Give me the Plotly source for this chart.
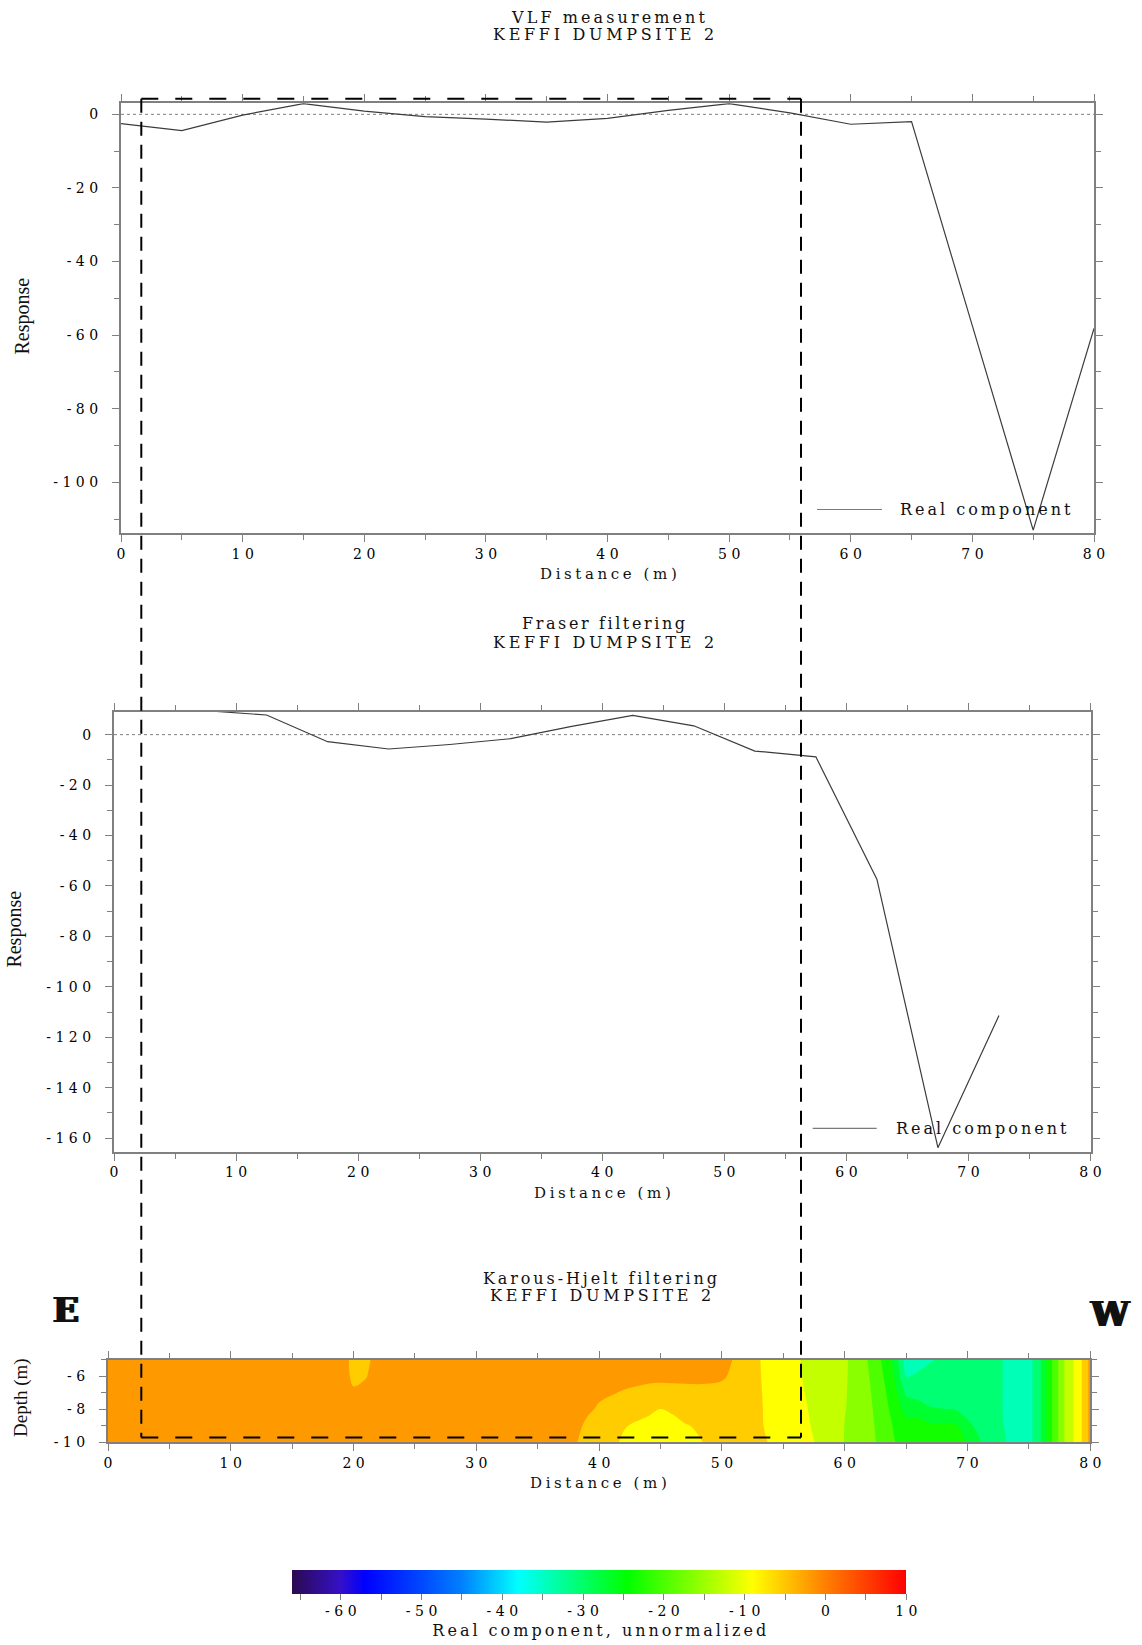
import plotly.graph_objects as go

# ---------------------------------------------------------------- data
# VLF real component along the profile
vlf_distance = [0, 5, 10, 15, 20, 25, 30, 35, 40, 45, 50, 55, 60, 65, 70, 75, 80]
vlf_real = [-2.5, -4.4, -0.2, 2.9, 0.9, -0.6, -1.3, -2.1, -1.1, 1.1, 2.9, 0.4,
            -2.7, -2.0, -57.5, -113.0, -58.2]

# Fraser filtered response, plotted at station mid-points
fraser_distance = [7.5, 12.5, 17.5, 22.5, 27.5, 32.5, 37.5, 42.5, 47.5, 52.5,
                   57.5, 62.5, 67.5, 72.5]
fraser_real = [9.5, 7.8, -2.8, -5.7, -3.9, -1.6, 3.3, 7.6, 3.5, -6.5,
               -8.8, -57.3, -163.8, -111.4]

# Karous-Hjelt pseudo-section (one list per depth level)
kh_distance = [0, 19, 20, 21, 22, 38, 39, 40, 42, 44, 45, 46, 47, 48, 49, 50,
               51, 52, 54, 56, 58, 60, 61, 62, 63, 64, 65, 66, 67, 69, 70.5,
               72, 73, 74, 75, 76, 77, 78, 79, 80]
kh_depth = [-5, -6, -7, -8, -9, -10]
kh_real_5 = [-2, -2, -4.6, -4.6, -2, -2, -2, -2, -2, -2, -2, -2, -2, -2, -2.2, -2.5,
             -3.8, -5.5, -8.5, -10.4, -12.4, -14.0, -15.5, -18.5, -21.8, -26.0, -34.0, -33.5, -32.6, -31.5, -31.5,
             -31.8, -32.5, -34.0, -34.0, -28.6, -20.8, -13.6, -9.2, -2.5]
kh_real_6 = [-2, -2, -4.3, -3.8, -2, -2, -2, -2, -2.6, -2.9, -2.9, -2.9, -2.9, -2.9, -3.0, -3.2,
             -4.2, -5.6, -8.3, -10.3, -12.2, -14.1, -15.4, -18.0, -21.0, -25.0, -32.6, -32.0, -31.5, -31.2, -31.5,
             -31.8, -32.5, -34.0, -34.0, -28.6, -20.8, -13.6, -9.2, -2.5]
kh_real_7 = [-2, -2, -3.2, -2.6, -2, -2, -2, -3.0, -3.8, -4.4, -4.6, -4.5, -4.4, -4.3, -4.3, -4.5,
             -5.0, -5.8, -8.0, -10.1, -12.0, -14.2, -15.3, -17.6, -20.3, -23.8, -29.5, -30.5, -30.8, -31.0, -31.5,
             -31.8, -32.5, -34.0, -34.0, -28.6, -20.8, -13.6, -9.2, -2.5]
kh_real_8 = [-2, -2, -2, -2, -2, -2, -3.0, -4.0, -5.5, -6.6, -7.25, -6.7, -5.8, -5.0, -4.6, -4.8,
             -5.2, -6.0, -7.8, -9.9, -11.7, -14.3, -15.2, -17.3, -19.8, -22.8, -26.5, -27.0, -28.5, -29.0, -30.5,
             -31.8, -32.5, -34.0, -34.0, -28.6, -20.8, -13.6, -9.2, -2.5]
kh_real_9 = [-2, -2, -2, -2, -2, -2.5, -4.2, -5.0, -7.0, -8.0, -8.6, -8.2, -7.4, -6.9, -6.0, -5.8,
             -5.6, -6.3, -7.6, -9.7, -11.5, -14.45, -15.1, -17.0, -19.4, -21.9, -24.0, -23.8, -24.8, -24.8, -29.0,
             -31.8, -32.45, -33.8, -34.0, -28.6, -20.8, -13.6, -9.2, -2.5]
kh_real_10 = [-2, -2, -2, -2, -2, -3.3, -4.6, -5.5, -7.6, -8.6, -9.2, -8.8, -8.2, -7.5, -6.8, -6.4,
              -6.0, -6.6, -7.3, -9.5, -11.2, -14.5, -15.0, -16.8, -19.0, -21.4, -23.0, -23.2, -23.5, -23.0, -27.0,
              -31.6, -32.2, -33.6, -34.0, -28.6, -20.8, -13.6, -9.2, -2.5]

# tick values
distance_ticks = [0, 10, 20, 30, 40, 50, 60, 70, 80]
vlf_ticks = [-100, -80, -60, -40, -20, 0]
fraser_ticks = [-160, -140, -120, -100, -80, -60, -40, -20, 0]
depth_ticks = [-10, -8, -6]
cbar_ticks = [-65, -60, -55, -50, -45, -40, -35, -30, -25, -20, -15, -10, -5, 0, 5, 10]
cbar_labelled = [-60, -50, -40, -30, -20, -10, 0, 10]

# colour scale anchors (value, colour)
cmin, cmax = -66, 10
scale_anchors = [(-66, '#2b0a4f'), (-60, '#3510c8'), (-57, '#0000ff'), (-50, '#0048ff'),
                 (-45, '#0080ff'), (-38, '#00ffff'), (-24.5, '#00ff00'), (-9, '#ffff00'),
                 (0, '#ff8000'), (10, '#ff0000')]
colorscale = [[(v - cmin) / (cmax - cmin), c] for v, c in scale_anchors]

# contour levels of the pseudo-section
level_start, level_end, level_step = -36.0, 0.0, 3.6


def _rgb(h):
    return tuple(int(h[i:i + 2], 16) for i in (1, 3, 5))


def colour_at(value):
    """Colour of the continuous scale at a given data value."""
    for (v0, c0), (v1, c1) in zip(scale_anchors[:-1], scale_anchors[1:]):
        if v0 <= value <= v1:
            t = (value - v0) / (v1 - v0)
            a, b = _rgb(c0), _rgb(c1)
            r, g, bl = (round(a[k] + (b[k] - a[k]) * t) for k in range(3))
            return f'#{r:02x}{g:02x}{bl:02x}'
    return scale_anchors[0][1] if value < cmin else scale_anchors[-1][1]


# filled contours colour each band from a scale spanning half a step beyond
# the first and last levels; rebuild the continuous scale over that span
fill_lo = level_start - level_step / 2
fill_hi = level_end + level_step / 2
fill_scale = [[0.0, colour_at(fill_lo)]]
for v, c in scale_anchors:
    if fill_lo < v < fill_hi:
        fill_scale.append([(v - fill_lo) / (fill_hi - fill_lo), c])
fill_scale.append([1.0, colour_at(fill_hi)])

# ---------------------------------------------------------------- layout helpers
W, H = 1142, 1645


def fx(px):
    return px / W


def fy(py):
    return 1 - py / H


def spaced(text, ls):
    """Letter-spaced text, without extra space after the last character."""
    if len(text) < 2:
        return text
    return f'<span style="letter-spacing:{ls}px">{text[:-1]}</span>{text[-1]}'


GREY = '#808080'
SERIF = 'DejaVu Serif'
TICK_FONT = dict(family=SERIF, size=14, color='#000000')
TICK_LS = 4.5


def axis(tickvals, rng, minor_dtick, domain, anchor, standoff):
    return dict(
        domain=domain, anchor=anchor, range=rng, autorange=False, automargin=False,
        tickmode='array', tickvals=tickvals,
        ticktext=[spaced(f'{v:g}', TICK_LS) for v in tickvals],
        ticks='outside', ticklen=7, tickwidth=1.3, tickcolor=GREY,
        minor=dict(ticks='outside', ticklen=5, tickwidth=1.2, tickcolor=GREY,
                   tickmode='linear', tick0=0, dtick=minor_dtick),
        showline=True, linecolor=GREY, linewidth=2, mirror='ticks',
        showgrid=False, zeroline=False, tickfont=TICK_FONT,
        ticklabelstandoff=standoff, fixedrange=True,
    )


fig = go.Figure()

fig.add_trace(go.Scatter(
    x=vlf_distance, y=vlf_real, mode='lines', name='Real component',
    line=dict(color='#3c3c3c', width=1.2), xaxis='x', yaxis='y',
    showlegend=False, hoverinfo='skip'))

fig.add_trace(go.Scatter(
    x=fraser_distance, y=fraser_real, mode='lines', name='Real component',
    line=dict(color='#3c3c3c', width=1.2), xaxis='x2', yaxis='y2',
    showlegend=False, hoverinfo='skip'))

fig.add_trace(go.Contour(
    x=kh_distance, y=kh_depth,
    z=[kh_real_5, kh_real_6, kh_real_7, kh_real_8, kh_real_9, kh_real_10],
    colorscale=fill_scale, autocontour=False,
    contours=dict(start=level_start, end=level_end, size=level_step,
                  coloring='fill', showlines=False),
    line=dict(width=0), showscale=False, xaxis='x3', yaxis='y3', hoverinfo='skip'))

# continuous colour bar for the pseudo-section
fig.add_trace(go.Scatter(
    x=[None], y=[None], mode='markers', xaxis='x3', yaxis='y3',
    showlegend=False, hoverinfo='skip',
    marker=dict(color=[0], cmin=cmin, cmax=cmax, colorscale=colorscale, showscale=True,
                colorbar=dict(
                    orientation='h', x=fx(599.3), xanchor='center',
                    y=fy(1569.5), yanchor='top', len=614 / W, lenmode='fraction',
                    thickness=24, thicknessmode='pixels', xpad=0, ypad=0,
                    outlinewidth=0,
                    tickmode='array', tickvals=cbar_ticks,
                    ticktext=[spaced(f'{v:g}', TICK_LS) if v in cbar_labelled else ''
                              for v in cbar_ticks],
                    ticks='outside', ticklen=6, tickwidth=1.2, tickcolor=GREY,
                    tickfont=TICK_FONT,
                    title=dict(text=spaced('Real component, unnormalized', 3.0), side='bottom',
                               font=dict(family=SERIF, size=16, color='#111111')),
                ))))

# panel rectangles in figure pixels
p1 = dict(l=121, r=1094, t=103.3, b=532.7)
p2 = dict(l=114, r=1090.5, t=711.7, b=1151.5)
p3 = dict(l=108, r=1090.3, t=1359.5, b=1442)


def xdom(p):
    return [fx(p['l']), fx(p['r'])]


def ydom(p):
    return [fy(p['b']), fy(p['t'])]


fig.update_layout(
    width=W, height=H, autosize=False,
    margin=dict(l=0, r=0, t=0, b=0, pad=0, autoexpand=False),
    paper_bgcolor='white', plot_bgcolor='white', showlegend=False,
    xaxis=axis(distance_ticks, [0, 80], 5, xdom(p1), 'y', 0),
    yaxis=axis(vlf_ticks, [-113.7, 3.0], 10, ydom(p1), 'x', 11),
    xaxis2=axis(distance_ticks, [0, 80], 5, xdom(p2), 'y2', 0),
    yaxis2=axis(fraser_ticks, [-165.3, 9.1], 10, ydom(p2), 'x2', 11),
    xaxis3=axis(distance_ticks, [0, 80], 5, xdom(p3), 'y3', 0),
    yaxis3=axis(depth_ticks, [-10, -5], 1, ydom(p3), 'x3', 11),
)

# zero reference lines
for yref in ('y', 'y2'):
    fig.add_shape(type='line', xref=yref.replace('y', 'x') + ' domain', x0=0, x1=1,
                  yref=yref, y0=0, y1=0, line=dict(color=GREY, width=1, dash='dot'),
                  layer='below')

# dashed outline of the section of interest (spans all three panels)
box_l, box_r, box_t, box_b = 141.3, 801.0, 98.7, 1437.5
for x0, y0, x1, y1, dash in [
        (box_l, box_t, box_r, box_t, '17px,17px'),
        (box_l, box_b, box_r, box_b, '17px,17px'),
        (box_l, box_t, box_l, box_b, '14px,9px'),
        (box_r, box_t, box_r, box_b, '14px,9px')]:
    fig.add_shape(type='line', xref='paper', yref='paper',
                  x0=fx(x0), x1=fx(x1), y0=fy(y0), y1=fy(y1),
                  line=dict(color='black', width=2, dash=dash), layer='above')

# legend samples
for lx0, lx1, ly in [(817, 882, 509.5), (812.7, 876.7, 1128.3)]:
    fig.add_shape(type='line', xref='paper', yref='paper', x0=fx(lx0), x1=fx(lx1),
                  y0=fy(ly), y1=fy(ly), line=dict(color='#7a7a7a', width=1.2))

annotations = []


def text(label, x, y, size, ls, family=SERIF, xanchor='center', angle=0, weight='normal',
         shadow='none'):
    annotations.append(dict(
        text=spaced(label, ls) if ls else label, x=fx(x), y=fy(y), xref='paper', yref='paper',
        xanchor=xanchor, yanchor='middle', showarrow=False, textangle=angle,
        font=dict(family=family, size=size, color='#111111', weight=weight, shadow=shadow)))


text('VLF measurement', 608, 17.5, 16, 3.1)
text('KEFFI DUMPSITE 2', 603, 34.2, 16, 3.7)
text('Fraser filtering', 603, 623.5, 16, 2.6)
text('KEFFI DUMPSITE 2', 603, 642.5, 16, 3.7)
text('Karous-Hjelt filtering', 600, 1278.5, 16, 2.9)
text('KEFFI DUMPSITE 2', 600, 1295.5, 16, 3.7)

text('Distance (m)', 608, 573.6, 15, 3.6)
text('Distance (m)', 602.4, 1193.4, 15, 3.6)
text('Distance (m)', 598.4, 1483, 15, 3.6)

text('Response', 22.5, 316, 20, 0, family='Liberation Serif', angle=-90)
text('Response', 15, 929.6, 20, 0, family='Liberation Serif', angle=-90)
text('Depth (m)', 21, 1398, 19, 0, family='Liberation Serif', angle=-90)

text('Real component', 898, 509.5, 16, 3.0, xanchor='left')
text('Real component', 893.7, 1128.3, 16, 3.0, xanchor='left')

# heavy compass letters
HEAVY = '#111 1.2px 0 0, #111 -1.2px 0 0'
text('E', 65.5, 1310, 34, 0, weight='bold', shadow=HEAVY)
text('W', 1109.5, 1314, 34, 0, weight='bold', shadow=HEAVY)

fig.update_layout(annotations=annotations)

fig.write_html('out.html')
